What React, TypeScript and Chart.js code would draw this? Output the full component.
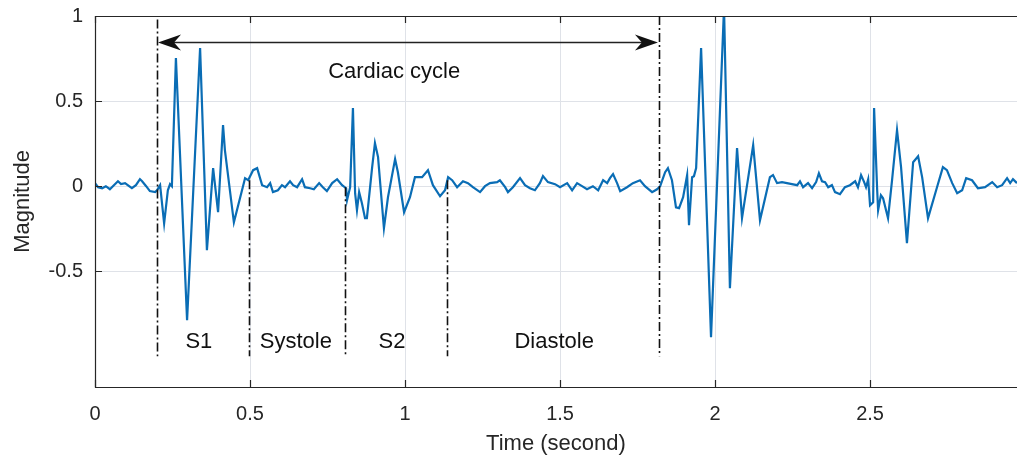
import React, { useEffect, useRef } from "react";
import { Chart, registerables } from "chart.js";

Chart.register(...registerables);

// Time axis (seconds) and magnitude readings of the PCG signal
const timeSec = [
  0.000, 0.010, 0.023, 0.035, 0.048, 0.061, 0.074, 0.084, 0.097, 0.110, 0.119, 0.132, 0.145, 0.152, 0.165,
  0.177, 0.194, 0.200, 0.210, 0.223, 0.235, 0.242, 0.248, 0.261, 0.297, 0.339, 0.361, 0.381, 0.397, 0.413,
  0.419, 0.448, 0.484, 0.494, 0.510, 0.523, 0.539, 0.555, 0.565, 0.574, 0.590, 0.603, 0.613, 0.629, 0.639,
  0.652, 0.668, 0.677, 0.694, 0.706, 0.723, 0.735, 0.748, 0.765, 0.781, 0.797, 0.810, 0.813, 0.823, 0.832,
  0.839, 0.845, 0.852, 0.861, 0.871, 0.877, 0.894, 0.903, 0.913, 0.932, 0.945, 0.968, 0.977, 0.997, 1.016,
  1.032, 1.055, 1.074, 1.090, 1.113, 1.129, 1.139, 1.152, 1.168, 1.187, 1.203, 1.219, 1.242, 1.258, 1.274,
  1.297, 1.306, 1.323, 1.332, 1.348, 1.371, 1.387, 1.403, 1.419, 1.435, 1.445, 1.461, 1.484, 1.500, 1.523,
  1.539, 1.555, 1.571, 1.587, 1.606, 1.623, 1.639, 1.652, 1.661, 1.671, 1.684, 1.694, 1.716, 1.735, 1.758,
  1.774, 1.797, 1.813, 1.823, 1.839, 1.848, 1.861, 1.874, 1.884, 1.897, 1.910, 1.916, 1.926, 1.932, 1.939,
  1.955, 1.987, 2.029, 2.048, 2.071, 2.087, 2.123, 2.145, 2.177, 2.187, 2.200, 2.216, 2.232, 2.248, 2.265,
  2.274, 2.284, 2.300, 2.313, 2.326, 2.335, 2.345, 2.355, 2.365, 2.377, 2.387, 2.403, 2.419, 2.435, 2.452,
  2.461, 2.471, 2.481, 2.487, 2.494, 2.500, 2.510, 2.513, 2.523, 2.526, 2.535, 2.542, 2.558, 2.571, 2.587,
  2.600, 2.619, 2.639, 2.655, 2.668, 2.687, 2.716, 2.735, 2.748, 2.765, 2.781, 2.797, 2.810, 2.829, 2.848,
  2.871, 2.894, 2.910, 2.926, 2.942, 2.952, 2.961, 2.974,
];

const magnitude = [
  0.018, -0.006, -0.012, 0.000, -0.018, 0.006, 0.029, 0.012, 0.018, 0.000, -0.012, 0.006, 0.041, 0.029, 0.000,
  -0.029, -0.035, -0.024, 0.006, -0.218, -0.024, 0.012, 0.000, 0.753, -0.788, 0.812, -0.376, 0.106, -0.153, 0.359,
  0.212, -0.212, 0.047, 0.035, 0.094, 0.106, 0.006, -0.006, 0.018, -0.035, -0.024, 0.006, -0.006, 0.029, 0.006,
  -0.006, 0.041, -0.006, -0.012, -0.018, 0.018, -0.006, -0.029, 0.018, 0.041, 0.006, -0.012, -0.082, -0.006, 0.459,
  -0.041, -0.141, -0.035, -0.100, -0.188, -0.188, 0.112, 0.253, 0.171, -0.247, -0.065, 0.159, 0.082, -0.153, -0.065,
  0.053, 0.053, 0.094, 0.006, -0.059, -0.024, 0.053, 0.035, -0.006, 0.029, 0.018, -0.006, -0.035, 0.000, 0.018,
  0.024, 0.035, -0.006, -0.035, -0.006, 0.047, 0.006, -0.012, -0.024, 0.018, 0.059, 0.024, 0.012, -0.006, 0.018,
  -0.024, 0.018, 0.000, -0.018, 0.000, -0.024, 0.035, 0.018, 0.047, 0.071, 0.018, -0.029, -0.006, 0.018, 0.035,
  0.000, -0.035, -0.018, 0.000, 0.082, 0.106, 0.035, -0.124, -0.129, -0.065, 0.065, -0.229, 0.053, 0.059, 0.106,
  0.812, -0.888, 1.050, -0.600, 0.224, -0.188, 0.241, -0.200, 0.053, 0.065, 0.018, 0.024, 0.018, 0.012, 0.006,
  0.029, -0.006, 0.018, -0.012, 0.024, 0.076, 0.029, 0.024, -0.006, 0.006, -0.035, -0.047, -0.006, 0.006, 0.029,
  -0.006, 0.065, 0.024, -0.006, 0.041, -0.112, -0.094, 0.459, -0.024, -0.141, -0.053, -0.071, -0.188, 0.035, 0.329,
  0.112, -0.335, 0.141, 0.176, 0.053, -0.188, -0.006, 0.112, 0.094, 0.018, -0.041, -0.024, 0.047, 0.035, -0.012,
  -0.006, 0.024, -0.006, 0.006, 0.047, 0.018, 0.041, 0.018,
];

const xTickValues = [0, 0.5, 1, 1.5, 2, 2.5];
const yTickValues = [-0.5, 0, 0.5, 1];
const xRange = [0, 2.974];
const yRange = [-1.18, 1];

// Phase boundaries (dash-dot lines)
const boundaryTimes = [0.2, 0.497, 0.806, 1.135, 1.819];
const boundaryTops = [0.98, 0.035, -0.006, 0.035, 1.0];
const boundaryBottom = -1.0;

// Phase labels
const phaseLabels = ["S1", "Systole", "S2", "Diastole"];
const phaseLabelTimes = [0.335, 0.648, 0.958, 1.481];
const phaseLabelLevel = -0.918;

// Cardiac cycle arrow
const cycleLabel = "Cardiac cycle";
const cycleStart = 0.2;
const cycleEnd = 1.819;
const cycleArrowLevel = 0.847;
const cycleLabelTime = 0.752;
const cycleLabelLevel = 0.67;

const FONT = "'Liberation Sans', Arial, Helvetica, sans-serif";

const overlayPlugin = {
  id: "pcgOverlay",
  afterDatasetsDraw(chart: any) {
    const { ctx, chartArea, scales } = chart;
    const xs = scales.x;
    const ys = scales.y;
    ctx.save();

    // Axes box (top, left, bottom) and inward ticks
    ctx.strokeStyle = "#262626";
    ctx.lineWidth = 1.2;
    ctx.beginPath();
    ctx.moveTo(chartArea.right + 1, chartArea.top + 0.5);
    ctx.lineTo(chartArea.left + 0.5, chartArea.top + 0.5);
    ctx.lineTo(chartArea.left + 0.5, chartArea.bottom + 0.5);
    ctx.lineTo(chartArea.right + 1, chartArea.bottom + 0.5);
    ctx.stroke();
    ctx.beginPath();
    xTickValues.forEach((v) => {
      const px = Math.round(xs.getPixelForValue(v)) + 0.5;
      ctx.moveTo(px, chartArea.top);
      ctx.lineTo(px, chartArea.top + 7);
      ctx.moveTo(px, chartArea.bottom);
      ctx.lineTo(px, chartArea.bottom - 7);
    });
    yTickValues.forEach((v) => {
      const py = Math.round(ys.getPixelForValue(v)) + 0.5;
      ctx.moveTo(chartArea.left, py);
      ctx.lineTo(chartArea.left + 7, py);
    });
    ctx.stroke();

    // Dash-dot phase boundaries
    ctx.strokeStyle = "#111";
    ctx.lineWidth = 1.6;
    ctx.setLineDash([9, 3, 2, 3]);
    boundaryTimes.forEach((t, i) => {
      const px = Math.round(xs.getPixelForValue(t)) + 0.5;
      ctx.beginPath();
      ctx.moveTo(px, ys.getPixelForValue(boundaryTops[i]));
      ctx.lineTo(px, ys.getPixelForValue(boundaryBottom));
      ctx.stroke();
    });
    ctx.setLineDash([]);

    // Double arrow
    const ay = Math.round(ys.getPixelForValue(cycleArrowLevel)) + 0.5;
    const ax1 = xs.getPixelForValue(cycleStart);
    const ax2 = xs.getPixelForValue(cycleEnd);
    ctx.strokeStyle = "#222";
    ctx.fillStyle = "#111";
    ctx.lineWidth = 1.5;
    ctx.beginPath();
    ctx.moveTo(ax1 + 10, ay);
    ctx.lineTo(ax2 - 10, ay);
    ctx.stroke();
    const head = (tipX: number, dir: number) => {
      ctx.beginPath();
      ctx.moveTo(tipX, ay);
      ctx.lineTo(tipX + dir * 23, ay - 8);
      ctx.lineTo(tipX + dir * 16, ay);
      ctx.lineTo(tipX + dir * 23, ay + 8);
      ctx.closePath();
      ctx.fill();
    };
    head(ax1 + 1, 1);
    head(ax2 - 1, -1);

    // Texts
    ctx.fillStyle = "#111";
    ctx.font = `22px ${FONT}`;
    ctx.textBaseline = "middle";
    ctx.textAlign = "left";
    ctx.fillText(cycleLabel, xs.getPixelForValue(cycleLabelTime), ys.getPixelForValue(cycleLabelLevel));
    ctx.textAlign = "center";
    phaseLabels.forEach((lab, i) => {
      ctx.fillText(lab, xs.getPixelForValue(phaseLabelTimes[i]), ys.getPixelForValue(phaseLabelLevel));
    });
    ctx.restore();
  },
};

export default function App() {
  const canvasRef = useRef<HTMLCanvasElement | null>(null);

  useEffect(() => {
    if (!canvasRef.current) return;
    const points = timeSec.map((t, i) => ({ x: t, y: magnitude[i] }));
    const chart = new Chart(canvasRef.current, {
      type: "line",
      data: {
        datasets: [
          {
            label: "PCG",
            data: points,
            borderColor: "#0a6db5",
            borderWidth: 2.2,
            pointRadius: 0,
            tension: 0,
            fill: false,
          },
        ],
      },
      options: {
        animation: false,
        responsive: true,
        maintainAspectRatio: false,
        parsing: false,
        layout: { padding: { top: 16, right: 0, left: 0, bottom: 0 } },
        plugins: {
          legend: { display: false },
          tooltip: { enabled: false },
        },
        scales: {
          x: {
            type: "linear",
            min: xRange[0],
            max: xRange[1],
            afterBuildTicks: (scale: any) => {
              scale.ticks = xTickValues.map((v) => ({ value: v }));
            },
            afterFit: (scale: any) => {
              scale.height = 73;
              scale.paddingLeft = 0;
              scale.paddingRight = 0;
            },
            grid: { color: "#dfe2e8", lineWidth: 1, drawTicks: false },
            border: { display: false },
            ticks: {
              padding: 15,
              color: "#262626",
              font: { family: FONT, size: 20 },
              maxRotation: 0,
              callback: (v: any) => String(v),
            },
            title: {
              display: true,
              text: "Time (second)",
              color: "#262626",
              font: { family: FONT, size: 22 },
              padding: { top: 0, bottom: 3 },
            },
          },
          y: {
            type: "linear",
            min: yRange[0],
            max: yRange[1],
            afterBuildTicks: (scale: any) => {
              scale.ticks = yTickValues.map((v) => ({ value: v }));
            },
            afterFit: (scale: any) => {
              scale.width = 95;
              scale.paddingTop = 0;
              scale.paddingBottom = 0;
            },
            grid: { color: "#dfe2e8", lineWidth: 1, drawTicks: false },
            border: { display: false },
            ticks: {
              padding: 12,
              color: "#262626",
              font: { family: FONT, size: 20 },
              callback: (v: any) => String(v),
            },
            title: {
              display: true,
              text: "Magnitude",
              color: "#262626",
              font: { family: FONT, size: 22 },
              padding: { top: 10, bottom: 0 },
            },
          },
        },
      },
      plugins: [overlayPlugin],
    });
    return () => chart.destroy();
  }, []);

  return (
    <div
      style={{
        position: "fixed",
        left: 0,
        top: 0,
        width: "1017px",
        height: "460px",
        background: "#fff",
      }}
    >
      <canvas ref={canvasRef} />
    </div>
  );
}
